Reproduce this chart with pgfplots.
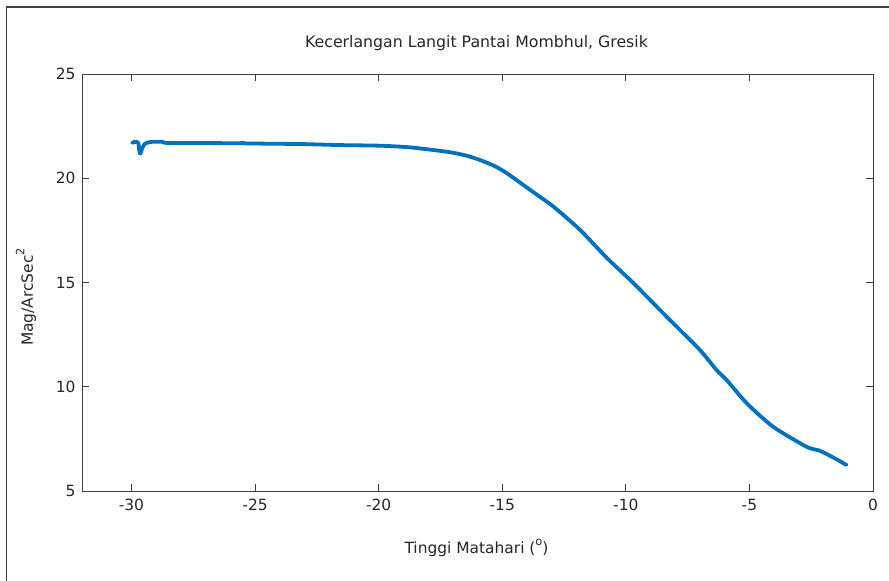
\documentclass[border=0pt]{standalone}
\usepackage{pgfplots}
\pgfplotsset{compat=1.18}
\usepackage{fontspec}
\setmainfont{DejaVu Sans}
\definecolor{lineblue}{RGB}{0,114,189}
\definecolor{framegray}{RGB}{64,64,64}
\newcommand{\mysup}[1]{\raisebox{0.55em}{\fontsize{11.5}{12}\selectfont #1}}
\begin{document}
\begin{tikzpicture}[x=1bp,y=1bp]
\useasboundingbox (0,0) rectangle (889,581);
\draw[framegray,line width=1.2bp] (6.5,0) -- (6.5,574) -- (889,574);
\begin{axis}[
  at={(82bp,90bp)}, anchor=south west,
  scale only axis, width=791bp, height=417bp,
  xmin=-32, xmax=0, ymin=5, ymax=25,
  xtick={-30,-25,...,0}, ytick={5,10,...,25},
  tick align=inside, major tick length=7bp,
  axis line style={framegray,line width=0.9bp},
  every tick/.style={framegray,line width=0.9bp},
  /pgf/number format/assume math mode=true,
  tick label style={font=\fontsize{15.5}{17}\selectfont, text=black!85},
  xticklabel style={yshift=-5bp},
  yticklabel style={xshift=-3bp},
  clip=false,
]
\addplot[lineblue, line width=3.8bp, line join=round, line cap=round, smooth, tension=0.4] coordinates {
(-29.97,21.70) (-29.88,21.74) (-29.80,21.75) (-29.72,21.69) (-29.68,21.30)
(-29.64,21.18) (-29.56,21.45) (-29.47,21.64) (-29.37,21.70) (-29.15,21.75)
(-28.76,21.75) (-28.59,21.69) (-27.50,21.69) (-25.88,21.68) (-25.59,21.68)
(-25.47,21.71) (-25.35,21.67) (-23.17,21.64) (-21.55,21.59) (-19.94,21.56)
(-18.72,21.48) (-17.24,21.27) (-16.50,21.10) (-15.89,20.87) (-15.30,20.58)
(-14.81,20.24) (-13.87,19.44) (-12.93,18.64) (-11.85,17.52) (-10.77,16.18)
(-9.70,14.98) (-8.35,13.36) (-7.00,11.76) (-6.33,10.80) (-5.92,10.32)
(-5.11,9.21) (-4.04,8.08) (-2.69,7.12) (-2.15,6.93) (-1.60,6.60) (-1.07,6.25)
};
\end{axis}
\node[font=\fontsize{15.8}{17}\selectfont, text=black!85] at (476.5,538) {Kecerlangan Langit Pantai Mombhul, Gresik};
\node[font=\fontsize{15.5}{17}\selectfont, text=black!85] at (476.5,33) {Tinggi Matahari (\mysup{o})};
\node[font=\fontsize{15.5}{17}\selectfont, text=black!85, rotate=90] at (26,284) {Mag/ArcSec\mysup{2}};
\end{tikzpicture}
\end{document}
